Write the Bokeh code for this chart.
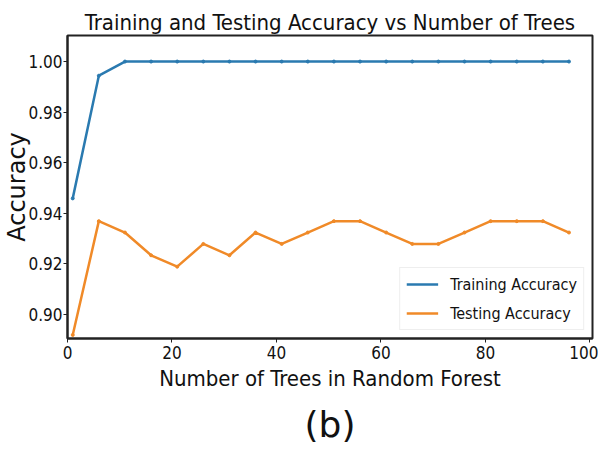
from bokeh.plotting import figure
from bokeh.models import FixedTicker, Range1d, Title, NumeralTickFormatter, Legend, LegendItem
from bokeh.embed import file_html
from bokeh.resources import INLINE

n_trees = [1, 6, 11, 16, 21, 26, 31, 36, 41, 46, 51, 56, 61, 66, 71, 76, 81, 86, 91, 96]
train_acc = [0.9459, 0.9944, 1.0, 1.0, 1.0, 1.0, 1.0, 1.0, 1.0, 1.0,
             1.0, 1.0, 1.0, 1.0, 1.0, 1.0, 1.0, 1.0, 1.0, 1.0]
test_acc = [0.8919, 0.9369, 0.9324, 0.9234, 0.9189, 0.9279, 0.9234, 0.9324, 0.9279, 0.9324,
            0.9369, 0.9369, 0.9324, 0.9279, 0.9279, 0.9324, 0.9369, 0.9369, 0.9369, 0.9324]
x_ticks = [0, 20, 40, 60, 80, 100]
y_ticks = [0.90, 0.92, 0.94, 0.96, 0.98, 1.00]

NARROW = "'DejaVu Sans Condensed', Roboto, sans-serif"
BLUE = "#2a7ab0"
ORANGE = "#f08a28"

p = figure(frame_width=525, frame_height=303, output_backend="svg", toolbar_location=None,
           x_range=Range1d(0, 100.5), y_range=Range1d(0.8905, 1.0103),
           min_border_left=59, min_border_right=6, min_border_top=35, min_border_bottom=2)

p.title.text = "Training and Testing Accuracy vs Number of Trees"
p.title.align = "center"
p.title.text_font = NARROW
p.title.text_font_size = "22px"
p.title.text_font_style = "normal"
p.title.text_color = "#111111"
p.title.standoff = 2

l1 = p.line(n_trees, train_acc, line_color=BLUE, line_width=2.5)
p.scatter(n_trees, train_acc, color=BLUE, size=3)
l2 = p.line(n_trees, test_acc, line_color=ORANGE, line_width=2.5)
p.scatter(n_trees, test_acc, color=ORANGE, size=3)

p.xgrid.visible = False
p.ygrid.visible = False
p.outline_line_color = "#222222"
p.outline_line_width = 2

for ax in (p.xaxis[0], p.yaxis[0]):
    ax.axis_line_color = "#222222"
    ax.axis_line_width = 2
    ax.major_tick_line_color = "#222222"
    ax.major_tick_in = 0
    ax.major_tick_out = 4
    ax.minor_tick_line_color = None
    ax.major_label_text_font = NARROW
    ax.major_label_text_font_size = "17px"
    ax.major_label_text_color = "#111111"

p.xaxis.ticker = FixedTicker(ticks=x_ticks)
p.yaxis.ticker = FixedTicker(ticks=y_ticks)
p.yaxis.formatter = NumeralTickFormatter(format="0.00")
p.xaxis.major_label_standoff = 3
p.yaxis.major_label_standoff = 1

p.xaxis.axis_label = "Number of Trees in Random Forest"
p.xaxis.axis_label_text_font = NARROW
p.xaxis.axis_label_text_font_size = "22px"
p.xaxis.axis_label_text_font_style = "normal"
p.xaxis.axis_label_text_color = "#111111"
p.xaxis.axis_label_standoff = 4

p.yaxis.axis_label = "Accuracy"
p.yaxis.axis_label_text_font = "DejaVu Sans"
p.yaxis.axis_label_text_font_size = "24px"
p.yaxis.axis_label_text_font_style = "normal"
p.yaxis.axis_label_text_color = "#111111"
p.yaxis.axis_label_standoff = -6

sub = Title(text="(b)", align="center", text_font="DejaVu Sans", text_font_size="36px",
            text_font_style="normal", text_color="#111111", standoff=17)
p.add_layout(sub, "below")

legend = Legend(items=[LegendItem(label="Training Accuracy", renderers=[l1]),
                       LegendItem(label="Testing Accuracy", renderers=[l2])],
                location="bottom_right")
legend.label_text_font = NARROW
legend.label_text_font_size = "16px"
legend.label_text_color = "#111111"
legend.border_line_color = "#dddddd"
legend.border_line_width = 1
legend.background_fill_alpha = 0.9
legend.glyph_width = 32
legend.label_height = 20
legend.label_standoff = 12
legend.spacing = 9
legend.padding = 6
legend.margin = 8
p.add_layout(legend)

open("out.html", "w").write(file_html(p, INLINE))
